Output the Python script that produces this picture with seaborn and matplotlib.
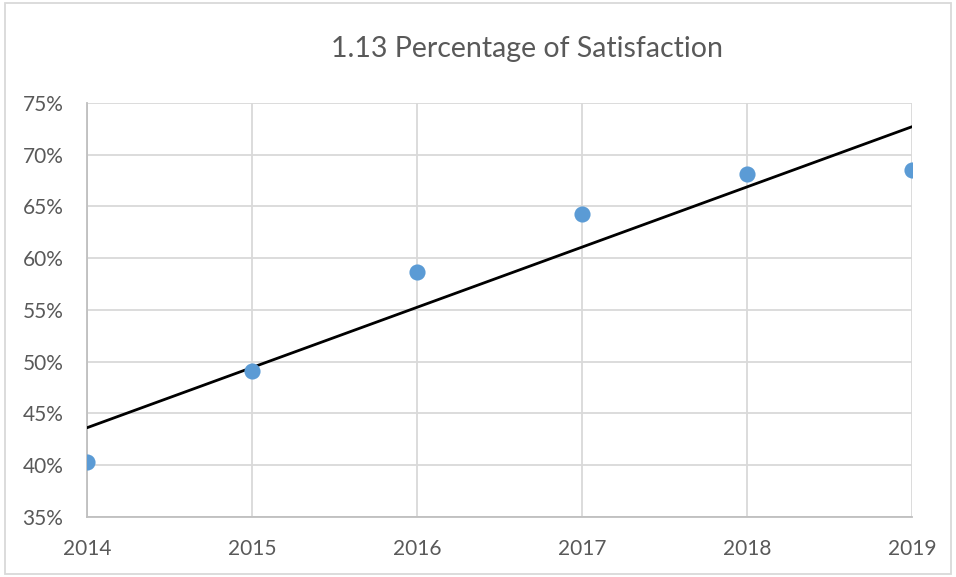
import matplotlib
matplotlib.use("Agg")
import matplotlib.pyplot as plt
import seaborn as sns
import pandas as pd
from matplotlib.ticker import PercentFormatter, MultipleLocator
from matplotlib.patches import Rectangle

# 数据
years = [2014, 2015, 2016, 2017, 2018, 2019]
satisfaction = [40.3, 49.1, 58.7, 64.3, 68.1, 68.5]
title_text = "1.13 Percentage of Satisfaction"

df = pd.DataFrame({"year": years, "pct": satisfaction})

sns.set_style("white")
plt.rcParams['font.family'] = ['Lato', 'DejaVu Sans']

fig = plt.figure(figsize=(9.56, 5.77), dpi=100)
ax = fig.add_axes([0.091, 0.104, 0.863, 0.7175])

# 趋势线 + 散点
sns.regplot(data=df, x="year", y="pct", ax=ax, ci=None,
            scatter_kws={"s": 135, "color": "#5B9BD5", "alpha": 1, "zorder": 4, "linewidths": 0},
            line_kws={"color": "black", "linewidth": 2, "zorder": 3})

ax.set_xlim(2014, 2019)
ax.set_ylim(35, 75)
ax.yaxis.set_major_locator(MultipleLocator(5))
ax.yaxis.set_major_formatter(PercentFormatter(decimals=0))
ax.set_xlabel("")
ax.set_ylabel("")
ax.grid(True, color="#D9D9D9", linewidth=1.3)
ax.set_axisbelow(True)
for s in ["top", "right"]:
    ax.spines[s].set_visible(False)
for s in ["left", "bottom"]:
    ax.spines[s].set_color("#BFBFBF")
    ax.spines[s].set_linewidth(1.3)
ax.tick_params(axis="both", length=0, labelsize=15, colors="#595959")
ax.tick_params(axis="y", pad=17)
ax.tick_params(axis="x", pad=16)

fig.text(0.551, 0.915, title_text, ha="center", va="center", fontsize=20.5, color="#595959")

# 外框
fig.patches.append(Rectangle((0.005, 0.005), 0.99, 0.99, transform=fig.transFigure,
                             fill=False, edgecolor="#D9D9D9", linewidth=1.3))

fig.savefig("out.png", dpi=100)
